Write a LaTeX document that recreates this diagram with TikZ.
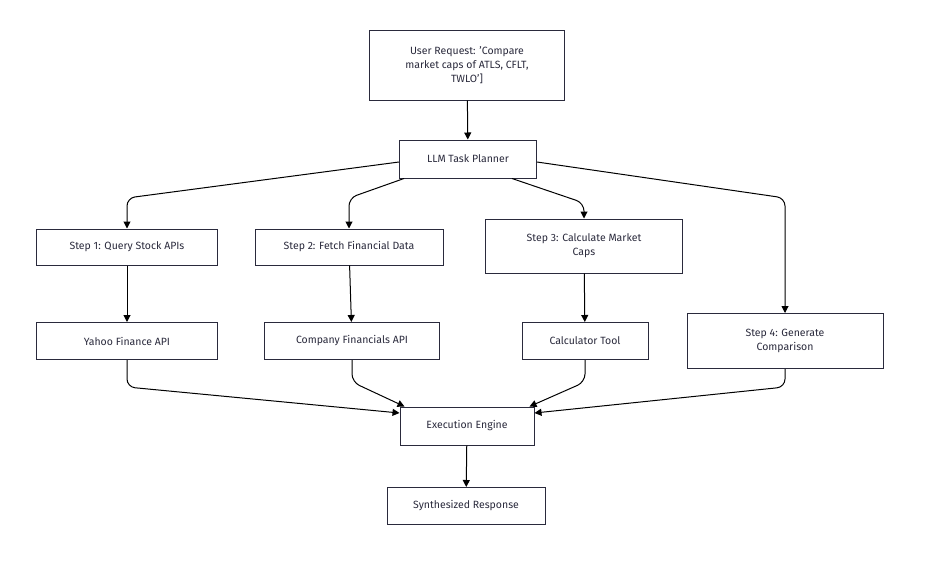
\documentclass[tikz,border=0pt]{standalone}
\usepackage{fontspec}
\setmainfont{Fira Sans}
\usetikzlibrary{arrows.meta}
\definecolor{ink}{HTML}{2A2A3C}
\begin{document}
\begin{tikzpicture}[x=1pt,y=-1pt,
  box/.style={draw=ink,line width=1pt,fill=white,text=ink,align=center,font=\fontsize{10.5}{14}\selectfont,inner sep=0pt},
  arr/.style={draw=black,line width=1pt,-{Triangle[length=7pt,width=7pt]},rounded corners=8pt}]
\useasboundingbox (0,0) rectangle (936,562);
\node[box,minimum width=195,minimum height=70] (u) at (467,65) {User Request: 'Compare\\market caps of ATLS, CFLT,\\TWLO']};
\node[box,minimum width=137,minimum height=38] (l) at (468,159) {LLM Task Planner};
\node[box,minimum width=181,minimum height=36] (s1) at (127,247) {Step 1: Query Stock APIs};
\node[box,minimum width=188,minimum height=36] (s2) at (349,247) {Step 2: Fetch Financial Data};
\node[box,minimum width=197,minimum height=54] (s3) at (584,246) {Step 3: Calculate Market\\Caps};
\node[box,minimum width=196,minimum height=55] (s4) at (785,341) {Step 4: Generate\\Comparison};
\node[box,minimum width=181,minimum height=37] (y) at (127,341) {Yahoo Finance API};
\node[box,minimum width=175,minimum height=37] (c) at (352,341) {Company Financials API};
\node[box,minimum width=126,minimum height=37] (k) at (585,341) {Calculator Tool};
\node[box,minimum width=134,minimum height=38] (e) at (467,426) {Execution Engine};
\node[box,minimum width=158,minimum height=37] (r) at (466,506) {Synthesized Response};
\coordinate (c1) at (127,198); \coordinate (c2) at (349,198);
\coordinate (c3) at (584,203); \coordinate (c4) at (785,198);
\coordinate (d1) at (127,387); \coordinate (d2) at (352,382);
\coordinate (d3) at (585,382); \coordinate (d4) at (785,387);
\draw[arr] (u) -- (l);
\draw[arr] (l.west|-0,162) -- (c1) -- (s1.north);
\draw[arr] ([xshift=5]l.south west) -- (c2) -- (s2.north);
\draw[arr] ([xshift=-25]l.south east) -- (c3) -- (s3.north);
\draw[arr] (l.east|-0,162) -- (c4) -- (s4.north);
\draw[arr] (s1) -- (y);
\draw[arr] (s2) -- (c);
\draw[arr] (s3) -- (k);
\draw[arr] (y.south) -- (d1) -- (e.west|-0,413);
\draw[arr] (c.south) -- (d2) -- ([xshift=5]e.north west);
\draw[arr] (k.south) -- (d3) -- ([xshift=-5]e.north east);
\draw[arr] (s4.south) -- (d4) -- (e.east|-0,413);
\draw[arr] (e) -- (r);
\end{tikzpicture}
\end{document}
